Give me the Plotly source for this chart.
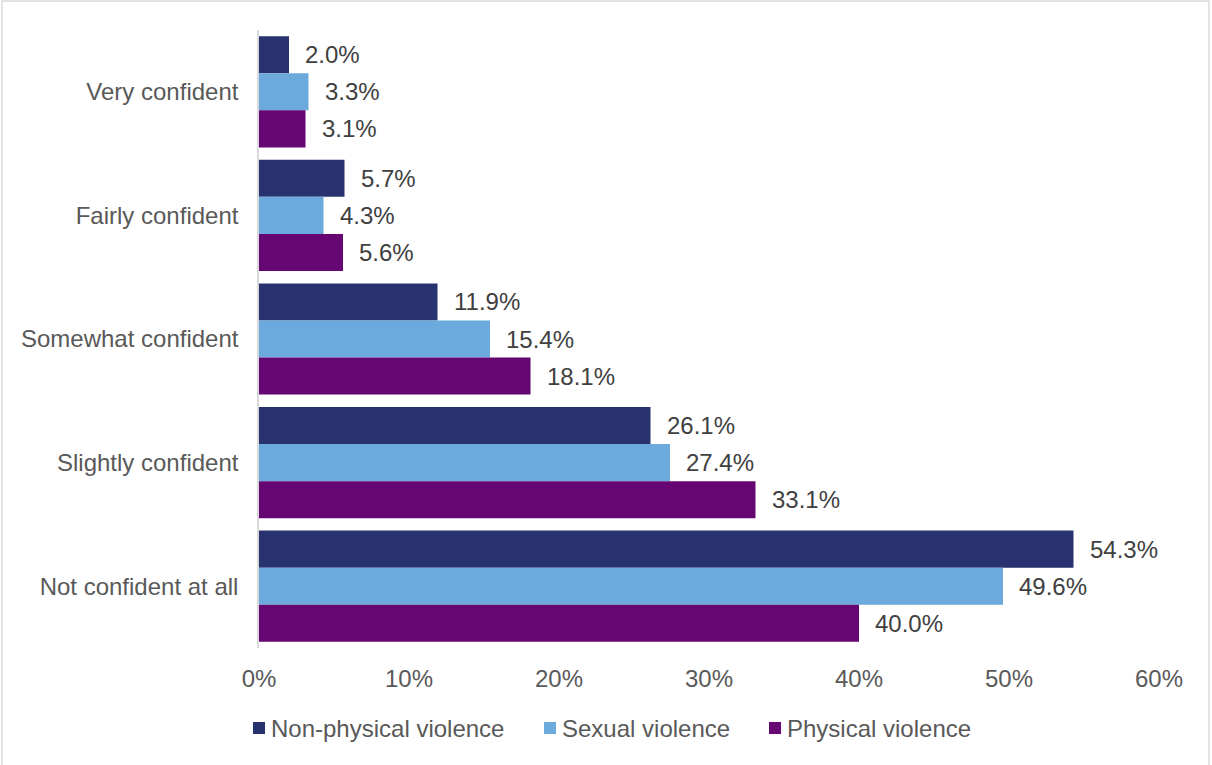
import plotly.graph_objects as go

# Confidence levels, top to bottom
categories = ["Very confident", "Fairly confident", "Somewhat confident",
              "Slightly confident", "Not confident at all"]

# Share of respondents (%) for each type of violence
non_physical = [2.0, 5.7, 11.9, 26.1, 54.3]
sexual = [3.3, 4.3, 15.4, 27.4, 49.6]
physical = [3.1, 5.6, 18.1, 33.1, 40.0]

series_names = ["Non-physical violence", "Sexual violence", "Physical violence"]
series_values = [non_physical, sexual, physical]
series_colors = ["#27326e", "#6ca9dc", "#650673"]

x_ticks = [0, 10, 20, 30, 40, 50, 60]
x_tick_labels = ["0%", "10%", "20%", "30%", "40%", "50%", "60%"]

FONT = "Liberation Sans, Arial, sans-serif"
W, H = 1212, 765
M_L, M_R, M_T, M_B = 259, 53, 30, 117
PLOT_W = W - M_L - M_R
PLOT_H = H - M_T - M_B
BARGAP = 0.1

fig = go.Figure()
for name, vals, col in zip(series_names, series_values, series_colors):
    fig.add_trace(go.Bar(
        y=categories, x=vals, name=name, orientation="h",
        marker=dict(color=col, line=dict(width=0)),
        showlegend=False,
    ))

# value labels to the right of each bar
band = PLOT_H / len(categories)
bar_h = band * (1 - BARGAP) / len(series_values)
annotations = []
for i, vals in enumerate(series_values):
    shift = (1 - i) * bar_h
    for cat, v in zip(categories, vals):
        annotations.append(dict(
            x=v, y=cat, xref="x", yref="y", text=f"{v:.1f}%",
            showarrow=False, xanchor="left", yanchor="middle",
            xshift=14, yshift=shift,
            font=dict(family=FONT, size=24, color="#404040"),
        ))

# legend drawn as coloured squares with labels below the axis
def px_x(px):
    return (px - M_L) / PLOT_W

def px_y(py):
    return (H - M_B - py) / PLOT_H

legend_pos = [253, 544, 769]
shapes = []
for x0, name, col in zip(legend_pos, series_names, series_colors):
    shapes.append(dict(type="rect", xref="paper", yref="paper",
                       x0=px_x(x0), x1=px_x(x0 + 12),
                       y0=px_y(734), y1=px_y(722),
                       fillcolor=col, line=dict(width=0)))
    annotations.append(dict(
        x=px_x(x0 + 16), y=px_y(728), xref="paper", yref="paper",
        text=name, showarrow=False, xanchor="left", yanchor="middle",
        font=dict(family=FONT, size=24, color="#595959"),
    ))

# outer frame
shapes.append(dict(type="rect", xref="paper", yref="paper",
                   x0=px_x(2), x1=px_x(1209), y0=px_y(770), y1=px_y(1),
                   line=dict(color="#d9d9d9", width=1.5),
                   fillcolor="rgba(0,0,0,0)", layer="below"))

fig.update_layout(
    width=W, height=H,
    margin=dict(l=M_L, r=M_R, t=M_T, b=M_B, pad=0),
    barmode="group", bargap=BARGAP, bargroupgap=0,
    plot_bgcolor="white", paper_bgcolor="white",
    font=dict(family=FONT, size=24, color="#595959"),
    annotations=annotations, shapes=shapes,
    xaxis=dict(range=[0, 60], tickvals=x_ticks, ticktext=x_tick_labels,
               showgrid=False, zeroline=False, showline=False,
               ticks="", ticklabelstandoff=14,
               tickfont=dict(family=FONT, size=24, color="#595959")),
    yaxis=dict(autorange="reversed", showgrid=False, zeroline=False,
               showline=True, linecolor="#d9d9d9", linewidth=1.5,
               ticks="", ticklabelstandoff=14,
               tickfont=dict(family=FONT, size=24, color="#595959")),
)

fig.write_html("out.html")
